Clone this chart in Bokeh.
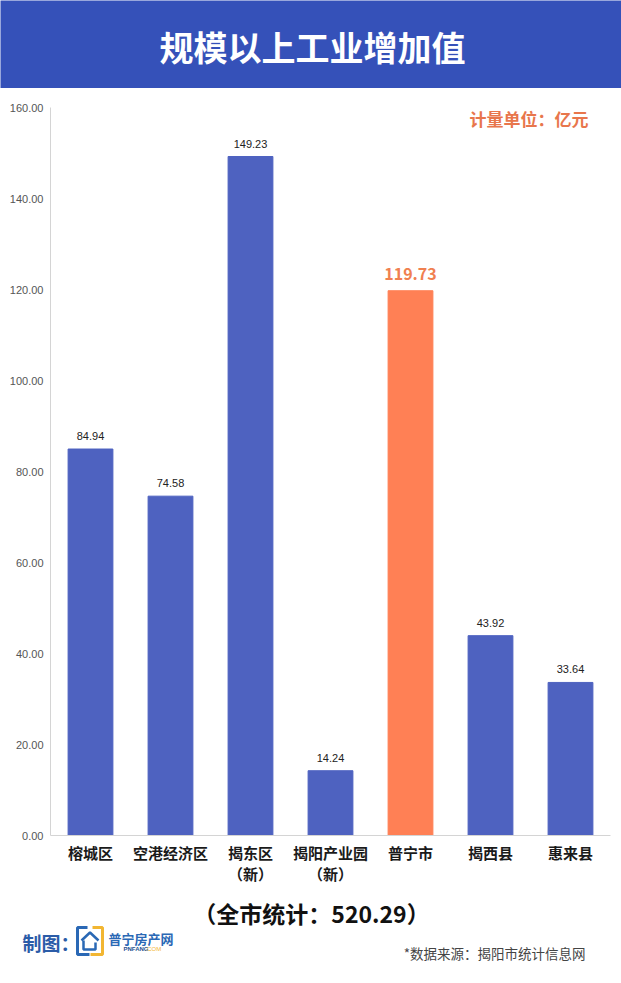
from bokeh.plotting import figure
from bokeh.layouts import column
from bokeh.models import (ColumnDataSource, FactorRange, Range1d, FixedTicker,
                          PrintfTickFormatter, Label)
from bokeh.embed import file_html
from bokeh.resources import INLINE
from bokeh.core.properties import value

# ---- data ----
categories = ["榕城区", "空港经济区", "揭东区\n（新）", "揭阳产业园\n（新）", "普宁市", "揭西县", "惠来县"]
values = [84.94, 74.58, 149.23, 14.24, 119.73, 43.92, 33.64]
highlight = "普宁市"
y_ticks = [0, 20, 40, 60, 80, 100, 120, 140, 160]
title_text = "规模以上工业增加值"
unit_text = "计量单位：亿元"
total_text = "（全市统计：520.29）"
maker_text = "制图："
logo_text = "普宁房产网"
logo_sub1 = "PNFANG"
logo_sub2 = ".COM"
source_text = "*数据来源：揭阳市统计信息网"

BLUE = "#4e62c0"
ORANGE = "#ff8055"
BANNER = "#3551b9"
LOGO_BLUE = "#2a68b5"
LOGO_YELLOW = "#f2b632"
CJK = "Noto Sans CJK SC"
W = 621

colors = [ORANGE if c == highlight else BLUE for c in categories]
labels = ["%.2f" % v for v in values]

src_all = ColumnDataSource(dict(cat=categories, val=values, color=colors, lab=labels))
norm_idx = [i for i, c in enumerate(categories) if c != highlight]
hi_idx = [i for i, c in enumerate(categories) if c == highlight]
src_norm = ColumnDataSource(dict(cat=[categories[i] for i in norm_idx],
                                 val=[values[i] for i in norm_idx],
                                 lab=[labels[i] for i in norm_idx]))
src_hi = ColumnDataSource(dict(cat=[categories[i] for i in hi_idx],
                               val=[values[i] for i in hi_idx],
                               lab=[labels[i] for i in hi_idx]))


def blank(height, bg):
    f = figure(width=W, height=height, output_backend="svg", toolbar_location=None,
               x_range=Range1d(0, W), y_range=Range1d(0, height),
               x_axis_type=None, y_axis_type=None, min_border=0)
    f.frame_align = False
    f.outline_line_color = None
    f.grid.grid_line_color = None
    f.background_fill_color = bg
    f.border_fill_color = bg
    return f


# ---- banner ----
HB = 88
banner = blank(HB, BANNER)
banner.text(x=[312], y=[HB - 46], text=[title_text], text_align="center",
            text_baseline="middle", text_font_size="34px", text_font=value(CJK),
            text_font_style="bold", text_color="white")

# ---- main chart ----
HM = 802
FT, FB = 19, 55
p = figure(width=W, height=HM, output_backend="svg", toolbar_location=None,
           x_range=FactorRange(factors=categories, range_padding=0),
           y_range=Range1d(0, 160),
           min_border_left=50, min_border_right=11, min_border_top=FT, min_border_bottom=FB)
p.frame_align = False
p.outline_line_color = None
p.xgrid.grid_line_color = None
p.ygrid.grid_line_color = None
p.background_fill_color = "white"
p.border_fill_color = "white"

p.vbar(x="cat", top="val", width=0.56, color="color", source=src_all)

p.text(x="cat", y="val", text="lab", source=src_norm, text_align="center",
       text_baseline="middle", y_offset=-13, text_font_size="11px",
       text_font=value("Liberation Sans"), text_color="#222222")
p.text(x="cat", y="val", text="lab", source=src_hi, text_align="center",
       text_baseline="middle", y_offset=-17, text_font_size="16px",
       text_font=value(CJK), text_color="#f08050", text_font_style="bold")

ya = p.yaxis[0]
ya.ticker = FixedTicker(ticks=y_ticks)
ya.formatter = PrintfTickFormatter(format="%.2f")
ya.major_tick_line_color = None
ya.minor_tick_line_color = None
ya.axis_line_color = "#d4d4d4"
ya.major_label_text_font = "Liberation Sans"
ya.major_label_text_font_size = "11px"
ya.major_label_text_color = "#555555"
ya.major_label_standoff = 1

xa = p.xaxis[0]
xa.major_tick_line_color = None
xa.axis_line_color = "#d4d4d4"
xa.major_label_text_font = CJK
xa.major_label_text_font_size = "15px"
xa.major_label_text_font_style = "bold"
xa.major_label_text_color = "#1a1a1a"
xa.major_label_text_line_height = 1.0
xa.major_label_standoff = 0

frame_h = HM - FT - FB
p.add_layout(Label(x=538, y=frame_h - 11, x_units="screen", y_units="screen",
                   text=unit_text, text_align="right", text_baseline="middle",
                   text_font_size="17px", text_color="#e8764c", text_font=CJK,
                   text_font_style="bold"))

# ---- footer ----
HF = 93
foot = blank(HF, "white")
foot.text(x=[311], y=[HF - 22], text=[total_text], text_align="center",
          text_baseline="middle", text_font_size="23px", text_font=value(CJK),
          text_font_style="bold", text_color="#111111")
foot.text(x=[22], y=[HF - 52], text=[maker_text], text_align="left",
          text_baseline="middle", text_font_size="19px", text_font=value(CJK),
          text_font_style="bold", text_color="#2b5ca8")
# logo icon (decoration)
foot.multi_line(xs=[[87, 77, 77, 89], [92, 102, 102, 90]],
                ys=[[56, 56, 29, 29], [56, 56, 29, 29]],
                line_color=[LOGO_BLUE, LOGO_YELLOW], line_width=3)
foot.multi_line(xs=[[81, 89.5, 98], [83, 83, 95, 95]],
                ys=[[43, 51, 43], [43, 34, 34, 41]],
                line_color=[LOGO_BLUE, LOGO_BLUE], line_width=2.5)
foot.text(x=[108], y=[HF - 48], text=[logo_text], text_align="left",
          text_baseline="middle", text_font_size="13px", text_font=value(CJK),
          text_font_style="bold", text_color=LOGO_BLUE)
foot.text(x=[123], y=[HF - 58], text=[logo_sub1], text_align="left",
          text_baseline="middle", text_font_size="6px", text_font=value("Liberation Sans"),
          text_font_style="bold", text_color="#1f4f90")
foot.text(x=[145], y=[HF - 58], text=[logo_sub2], text_align="left",
          text_baseline="middle", text_font_size="6px", text_font=value("Liberation Sans"),
          text_color=LOGO_YELLOW)
foot.text(x=[585], y=[HF - 62], text=[source_text], text_align="right",
          text_baseline="middle", text_font_size="13.5px", text_font=value(CJK),
          text_color="#444444")

layout = column(banner, p, foot, spacing=0)
open("out.html", "w").write(file_html(layout, INLINE))
